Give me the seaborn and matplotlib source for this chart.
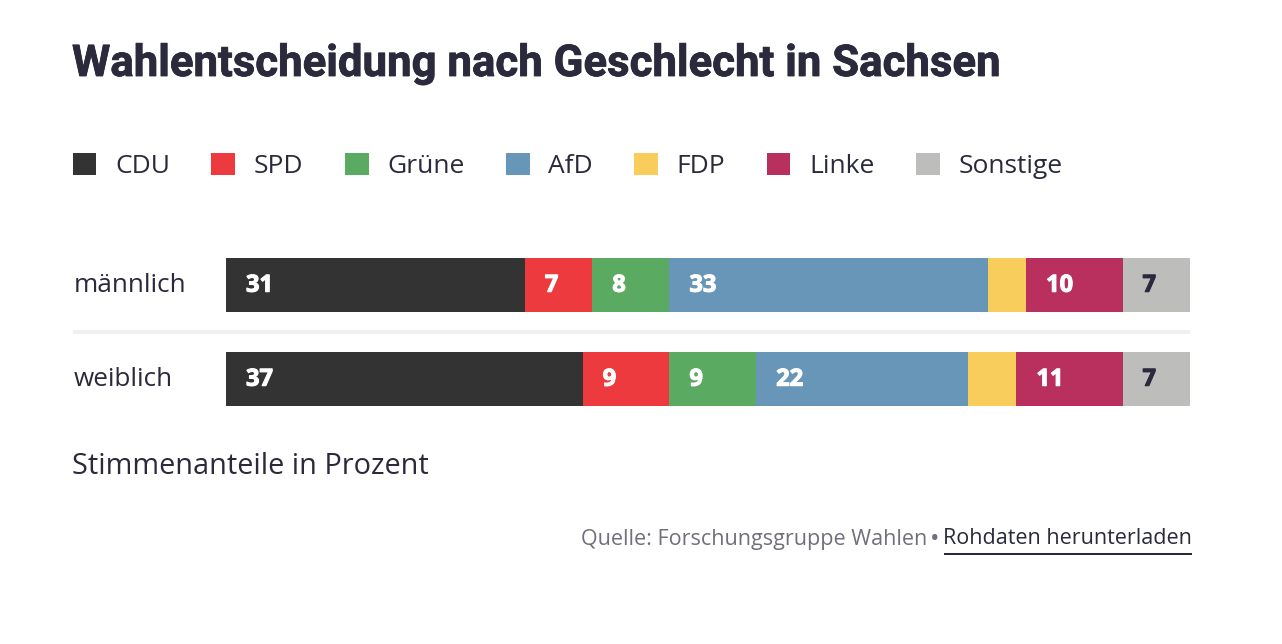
import matplotlib
matplotlib.use("Agg")
import matplotlib.pyplot as plt
import matplotlib.patheffects as pe
from matplotlib.patches import Rectangle
from matplotlib.transforms import ScaledTranslation
import pandas as pd
import seaborn as sns

groups = ["männlich", "weiblich"]
parties = ["CDU", "SPD", "Grüne", "AfD", "FDP", "Linke", "Sonstige"]
cdu = [31, 37]
spd = [7, 9]
gruene = [8, 9]
afd = [33, 22]
fdp = [4, 5]
linke = [10, 11]
sonstige = [7, 7]
colors = ["#333333", "#ec3a3e", "#5aaa62", "#6896b9", "#f8cd5b", "#b9305f", "#bdbdbb"]

W, H = 1282, 644
DARK = "#2a2a3c"

sns.set_theme(style="white")
plt.rcParams["font.family"] = ["Open Sans", "DejaVu Sans"]

df = pd.DataFrame({"group": groups, "CDU": cdu, "SPD": spd, "Grüne": gruene, "AfD": afd,
                   "FDP": fdp, "Linke": linke, "Sonstige": sonstige})

fig = plt.figure(figsize=(W / 100, H / 100), dpi=100, facecolor="white")
# axes spans exactly the bars, 226-1190 / 258-406 px
ax = fig.add_axes([226 / W, 1 - 406 / H, 964 / W, 148 / H])

left = pd.Series([0, 0])
for party, col in zip(parties, colors):
    sns.barplot(data=df, x=party, y="group", left=left, color=col, saturation=1,
                width=54 / 94, label=party, legend=False, ax=ax, linewidth=0)
    for i, v in enumerate(df[party]):
        if v > 5:  # small segments carry no label
            txt_col = DARK if party == "Sonstige" else "white"
            ax.annotate(str(v), (left[i], i), xytext=(14.4, -0.5), textcoords="offset points",
                        va="center", ha="left", fontsize=17, fontweight="bold", color=txt_col,
                        path_effects=[pe.withStroke(linewidth=0.8, foreground=txt_col)])
    left = left + df[party]

ax.set_xlim(0, 100)
ax.set_ylim(54 / 188 + 1, -54 / 188)
ax.set_xlabel("")
ax.set_ylabel("")
ax.tick_params(axis="y", length=0, pad=109.5, labelsize=18.8, labelcolor=DARK)
nudge = ScaledTranslation(0, 2 / 100, fig.dpi_scale_trans)
for lab in ax.get_yticklabels():
    lab.set_ha("left")
    lab.set_transform(lab.get_transform() + nudge)
ax.tick_params(axis="x", bottom=False, labelbottom=False)
sns.despine(ax=ax, left=True, bottom=True)

leg = ax.legend(ncol=7, loc="upper left", bbox_to_anchor=(62 / W, 1 - 142 / H),
                bbox_transform=fig.transFigure, frameon=False, fontsize=19,
                handlelength=0.905, handleheight=0.905, handletextpad=0.71,
                columnspacing=1.56, borderaxespad=0, labelcolor=DARK)

# separator between the rows
fig.add_artist(Rectangle((73 / W, 1 - 334 / H), 1117 / W, 4 / H, color="#f0f0f0", lw=0))

fig.text(72 / W, 1 - 64 / H, "Wahlentscheidung nach Geschlecht in Sachsen", fontsize=31.5,
         fontweight="bold", family="Roboto", color=DARK, va="center", ha="left",
         path_effects=[pe.withStroke(linewidth=0.6, foreground=DARK)])
fig.text(72 / W, 1 - 467 / H, "Stimmenanteile in Prozent", fontsize=20.8, color=DARK,
         va="center", ha="left")
fig.text(927 / W, 1 - 539 / H, "Quelle: Forschungsgruppe Wahlen", fontsize=15.5, color="#70707c",
         va="center", ha="right")
fig.text(935 / W, 1 - 539 / H, "•", fontsize=18, color="#70707c", va="center", ha="center")
fig.text(1192 / W, 1 - 539 / H, "Rohdaten herunterladen", fontsize=15.5, color=DARK,
         va="center", ha="right")
fig.add_artist(Rectangle((944 / W, 1 - 555 / H), 248 / W, 2 / H, color=DARK, lw=0))

fig.savefig("out.png", dpi=100)
